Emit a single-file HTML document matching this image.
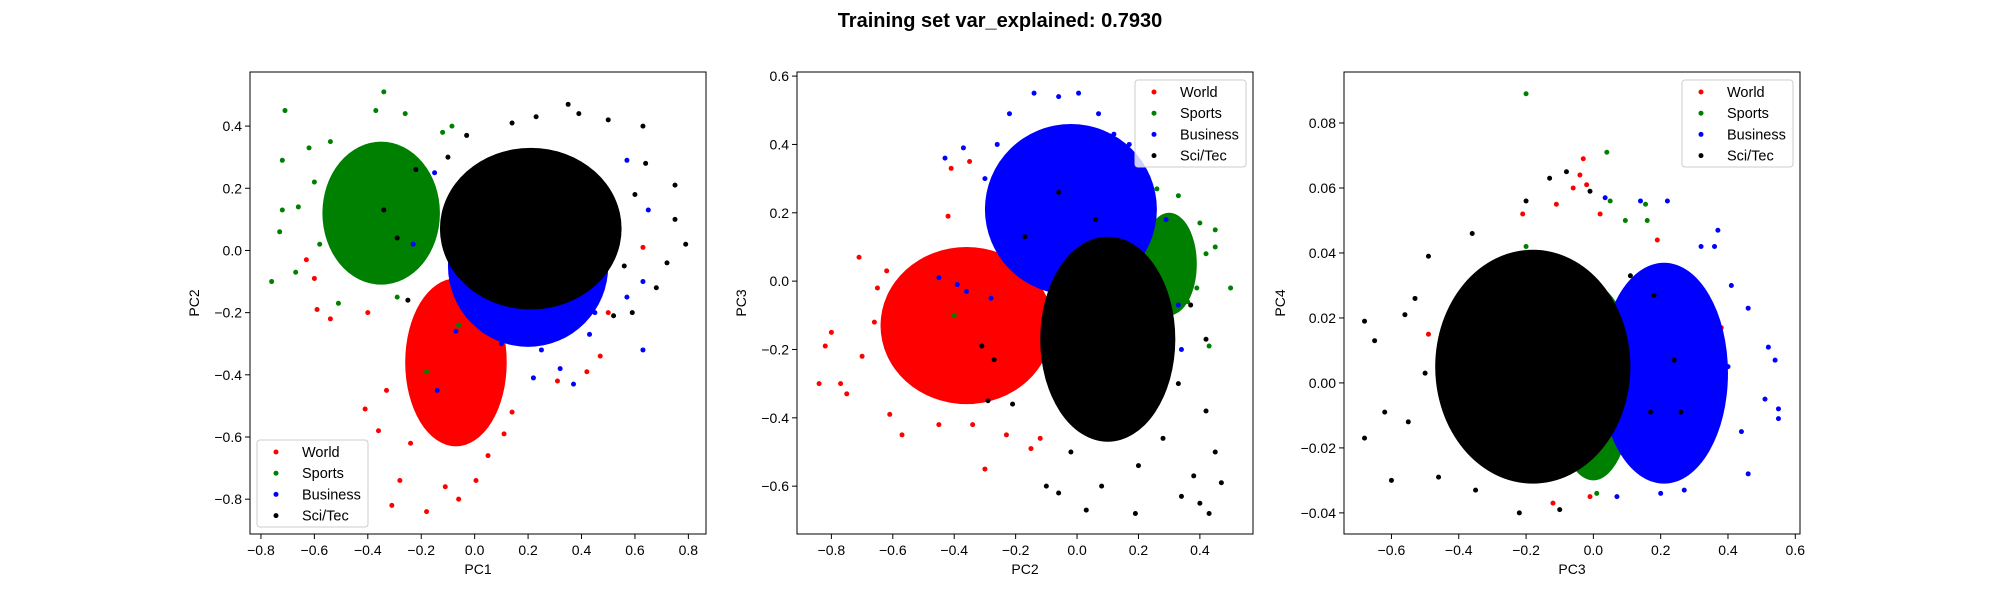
<!DOCTYPE html>
<html><head><meta charset="utf-8"><style>
html,body{margin:0;padding:0;background:#fff}
svg{display:block;font-family:"Liberation Sans","DejaVu Sans",sans-serif}
</style></head><body>
<svg id="fig" width="2000" height="600" viewBox="0 0 2000 600" xmlns="http://www.w3.org/2000/svg">
<rect width="2000" height="600" fill="#fff"/>
<text x="1000" y="27" text-anchor="middle" font-size="20" font-weight="bold" fill="#000">Training set var_explained: 0.7930</text>
</svg>
<script>
// ---- data ----
const classNames = ["World","Sports","Business","Sci/Tec"];
const classColors = ["#ff0000","#008000","#0000ff","#000000"];
// Plot 1: PC1 vs PC2 — dense-core ellipses [cx, cy, rx, ry] per class
const p1Cores = [[-0.07,-0.36,0.19,0.27],[-0.35,0.12,0.22,0.23],[0.2,-0.05,0.3,0.26],[0.21,0.07,0.34,0.26]];
const p1World = [[-0.18,-0.84],[-0.31,-0.82],[-0.06,-0.80],[-0.41,-0.51],[0.005,-0.74],[-0.59,-0.19],[-0.54,-0.22],[-0.60,-0.09],[-0.63,-0.03],[-0.40,-0.20],[0.47,-0.34],[0.42,-0.39],[0.31,-0.42],[0.63,0.01],[0.50,-0.20],[0.11,-0.59],[-0.36,-0.58],[-0.28,-0.74],[-0.11,-0.76],[-0.24,-0.62],[0.05,-0.66],[-0.33,-0.45],[0.14,-0.52]];
const p1Sports = [[-0.71,0.45],[-0.34,0.51],[-0.76,-0.10],[-0.73,0.06],[-0.72,0.29],[-0.62,0.33],[-0.37,0.45],[-0.26,0.44],[-0.085,0.40],[-0.12,0.38],[-0.51,-0.17],[-0.67,-0.07],[-0.18,-0.39],[-0.06,-0.24],[-0.72,0.13],[-0.66,0.14],[-0.54,0.35],[-0.29,-0.15],[-0.60,0.22],[-0.58,0.02]];
const p1Business = [[0.63,-0.32],[0.37,-0.43],[0.32,-0.38],[0.22,-0.41],[-0.14,-0.45],[0.57,-0.15],[0.63,-0.10],[0.57,0.29],[-0.15,0.25],[-0.23,0.02],[-0.07,-0.26],[0.43,-0.27],[0.65,0.13],[0.25,-0.32],[0.10,-0.30],[0.45,-0.20]];
const p1SciTec = [[0.79,0.02],[0.75,0.21],[0.75,0.10],[0.63,0.40],[0.35,0.47],[0.39,0.44],[0.50,0.42],[0.72,-0.04],[0.68,-0.12],[0.59,-0.20],[0.52,-0.21],[0.64,0.28],[-0.03,0.37],[-0.22,0.26],[-0.34,0.13],[-0.29,0.04],[-0.25,-0.16],[0.23,0.43],[0.14,0.41],[0.60,0.18],[-0.10,0.30],[0.56,-0.05]];
// Plot 2: PC2 vs PC3
const p2Cores = [[-0.36,-0.13,0.28,0.23],[0.3,0.05,0.09,0.15],[-0.02,0.21,0.28,0.25],[0.1,-0.17,0.22,0.3]];
const p2World = [[-0.84,-0.30],[-0.82,-0.19],[-0.80,-0.15],[-0.77,-0.30],[-0.75,-0.33],[-0.71,0.07],[-0.57,-0.45],[-0.61,-0.39],[-0.65,-0.02],[-0.41,0.33],[-0.30,-0.55],[-0.34,-0.42],[-0.45,-0.42],[-0.15,-0.49],[-0.12,-0.46],[-0.23,-0.45],[-0.42,0.19],[-0.35,0.35],[-0.62,0.03],[-0.70,-0.22],[-0.66,-0.12]];
const p2Sports = [[0.50,-0.02],[0.45,0.15],[0.45,0.10],[0.43,-0.19],[0.40,0.17],[0.33,0.25],[0.26,0.27],[0.16,0.37],[-0.40,-0.10],[0.42,0.08],[0.39,-0.02],[0.36,-0.06]];
const p2Business = [[-0.14,0.55],[-0.06,0.54],[0.005,0.55],[-0.22,0.49],[-0.43,0.36],[-0.37,0.39],[-0.45,0.01],[-0.39,-0.01],[-0.36,-0.03],[0.12,0.43],[0.17,0.40],[0.07,0.49],[0.24,0.27],[0.29,0.18],[0.33,-0.07],[0.34,-0.20],[-0.28,-0.05],[-0.30,0.30],[-0.26,0.40]];
const p2SciTec = [[0.47,-0.59],[0.43,-0.68],[0.40,-0.65],[0.19,-0.68],[0.03,-0.67],[-0.10,-0.60],[0.34,-0.63],[0.45,-0.50],[0.42,-0.38],[0.42,-0.17],[0.37,-0.07],[0.38,-0.57],[0.08,-0.60],[-0.06,-0.62],[-0.31,-0.19],[-0.27,-0.23],[-0.06,0.26],[-0.17,0.13],[0.06,0.18],[-0.21,-0.36],[-0.29,-0.35],[0.28,-0.46],[0.20,-0.54],[-0.02,-0.50],[0.33,-0.30]];
// Plot 3: PC3 vs PC4
const p3Cores = [[-0.1,0.002,0.18,0.03],[0.0,0.0,0.12,0.03],[0.21,0.003,0.19,0.034],[-0.18,0.005,0.29,0.036]];
const p3World = [[-0.03,0.069],[-0.04,0.064],[-0.02,0.061],[-0.06,0.060],[-0.11,0.055],[-0.21,0.052],[-0.12,-0.037],[-0.01,-0.035],[-0.49,0.015],[0.19,0.044],[0.38,0.017],[0.02,0.052]];
const p3Sports = [[-0.20,0.089],[0.04,0.071],[0.155,0.055],[0.16,0.050],[0.05,0.056],[0.095,0.050],[0.01,-0.034],[-0.20,0.042]];
const p3Business = [[0.55,-0.008],[0.55,-0.011],[0.54,0.007],[0.52,0.011],[0.46,0.023],[0.37,0.047],[0.36,0.042],[0.22,0.056],[0.14,0.056],[0.035,0.057],[0.46,-0.028],[0.27,-0.033],[0.20,-0.034],[0.07,-0.035],[0.51,-0.005],[0.41,0.030],[0.32,0.042],[0.44,-0.015],[0.40,0.005]];
const p3SciTec = [[-0.68,0.019],[-0.68,-0.017],[-0.60,-0.030],[-0.65,0.013],[-0.62,-0.009],[-0.56,0.021],[-0.49,0.039],[-0.36,0.046],[-0.22,-0.040],[-0.10,-0.039],[-0.08,0.065],[-0.13,0.063],[-0.20,0.056],[-0.01,0.059],[-0.35,-0.033],[-0.46,-0.029],[0.24,0.007],[0.26,-0.009],[0.18,0.027],[0.11,0.033],[0.17,-0.009],[-0.53,0.026],[-0.55,-0.012],[-0.50,0.003]];
const p1XTicks = [-0.8,-0.6,-0.4,-0.2,0.0,0.2,0.4,0.6,0.8];
const p1YTicks = [-0.8,-0.6,-0.4,-0.2,0.0,0.2,0.4];
const p2XTicks = [-0.8,-0.6,-0.4,-0.2,0.0,0.2,0.4];
const p2YTicks = [-0.6,-0.4,-0.2,0.0,0.2,0.4,0.6];
const p3XTicks = [-0.6,-0.4,-0.2,0.0,0.2,0.4,0.6];
const p3YTicks = [-0.04,-0.02,0.00,0.02,0.04,0.06,0.08];

const NS = "http://www.w3.org/2000/svg";
const fig = document.getElementById("fig");
function mk(tag, attrs, parent){const e=document.createElementNS(NS,tag);for(const k in attrs)e.setAttribute(k,attrs[k]);(parent||fig).appendChild(e);return e;}
function fmt(v,d){const s=Math.abs(v).toFixed(d);return (v<-1e-9?"\u2212":"")+s;}

function drawPlot(cfg){
  const g = mk("g",{});
  
  
  const sx = v => cfg.L + (v-cfg.x0)/(cfg.x1-cfg.x0)*(cfg.R-cfg.L);
  const sy = v => cfg.B - (v-cfg.y0)/(cfg.y1-cfg.y0)*(cfg.B-cfg.T);
  const clip = mk("clipPath",{id:cfg.name+"-clip"},g);
  mk("rect",{x:cfg.L,y:cfg.T,width:cfg.R-cfg.L,height:cfg.B-cfg.T},clip);
  const pts = mk("g",{"clip-path":"url(#"+cfg.name+"-clip)"},g);
  for(let c=0;c<4;c++){
    const cg = mk("g",{fill:classColors[c]},pts);
    
    
    const core = cfg.cores[c];
    const el = mk("ellipse",{cx:sx(core[0]),cy:sy(core[1]),rx:Math.abs(sx(core[0]+core[2])-sx(core[0])),ry:Math.abs(sy(core[1]+core[3])-sy(core[1]))},cg);
    
    
    for(const p of cfg.pts[c]){
      const d = mk("circle",{cx:sx(p[0]),cy:sy(p[1]),r:2.5},cg);
      
      
    }
  }
  const frame = mk("rect",{x:cfg.L,y:cfg.T,width:cfg.R-cfg.L,height:cfg.B-cfg.T,fill:"none",stroke:"#000","stroke-width":1},g);
  
  
  for(const t of cfg.xt){
    const x=sx(t);
    mk("line",{x1:x,x2:x,y1:cfg.B,y2:cfg.B+5,stroke:"#000","stroke-width":1},g);
    const tx=mk("text",{x:x,y:cfg.B+21,"text-anchor":"middle","font-size":14,fill:"#000"},g);
    tx.textContent=fmt(t,cfg.xd);
    
    
  }
  for(const t of cfg.yt){
    const y=sy(t);
    mk("line",{x1:cfg.L-5,x2:cfg.L,y1:y,y2:y,stroke:"#000","stroke-width":1},g);
    const ty=mk("text",{x:cfg.L-8,y:y+5,"text-anchor":"end","font-size":14,fill:"#000"},g);
    ty.textContent=fmt(t,cfg.yd);
    
    
  }
  const xl=mk("text",{x:(cfg.L+cfg.R)/2,y:cfg.B+40,"text-anchor":"middle","font-size":14,fill:"#000"},g);
  xl.textContent=cfg.xlab;
  
  
  const yx=cfg.ylabX, yy=(cfg.T+cfg.B)/2;
  const yl=mk("text",{x:yx,y:yy,"text-anchor":"middle","font-size":14,fill:"#000",transform:"rotate(-90 "+yx+" "+yy+")"},g);
  yl.textContent=cfg.ylab;
  
  
  // legend
  const lg=mk("g",{},g);
  
  
  mk("rect",{x:cfg.lx,y:cfg.ly,width:cfg.lw,height:87,rx:3,fill:"#fff","fill-opacity":0.8,stroke:"#ccc","stroke-width":1},lg);
  for(let c=0;c<4;c++){
    const yy2=cfg.ly+12+c*21.2;
    mk("circle",{cx:cfg.lx+19,cy:yy2,r:2.5,fill:classColors[c]},lg);
    const lt=mk("text",{x:cfg.lx+45,y:yy2+5,"font-size":14.5,fill:"#000"},lg);
    lt.textContent=classNames[c];
    
    
  }
}

drawPlot({name:"plot-pc1-pc2",L:250,R:706,T:72,B:534,x0:-0.841,x1:0.866,y0:-0.912,y1:0.574,
  cores:p1Cores,pts:[p1World,p1Sports,p1Business,p1SciTec],xt:p1XTicks,yt:p1YTicks,xd:1,yd:1,
  xlab:"PC1",ylab:"PC2",ylabX:199,lx:257,ly:440,lw:111});
drawPlot({name:"plot-pc2-pc3",L:797,R:1253,T:72,B:534,x0:-0.912,x1:0.573,y0:-0.740,y1:0.612,
  cores:p2Cores,pts:[p2World,p2Sports,p2Business,p2SciTec],xt:p2XTicks,yt:p2YTicks,xd:1,yd:1,
  xlab:"PC2",ylab:"PC3",ylabX:746,lx:1135,ly:80,lw:111});
drawPlot({name:"plot-pc3-pc4",L:1344,R:1800,T:72,B:534,x0:-0.741,x1:0.614,y0:-0.0465,y1:0.0957,
  cores:p3Cores,pts:[p3World,p3Sports,p3Business,p3SciTec],xt:p3XTicks,yt:p3YTicks,xd:1,yd:2,
  xlab:"PC3",ylab:"PC4",ylabX:1285,lx:1682,ly:80,lw:111});
</script>
</body></html>
